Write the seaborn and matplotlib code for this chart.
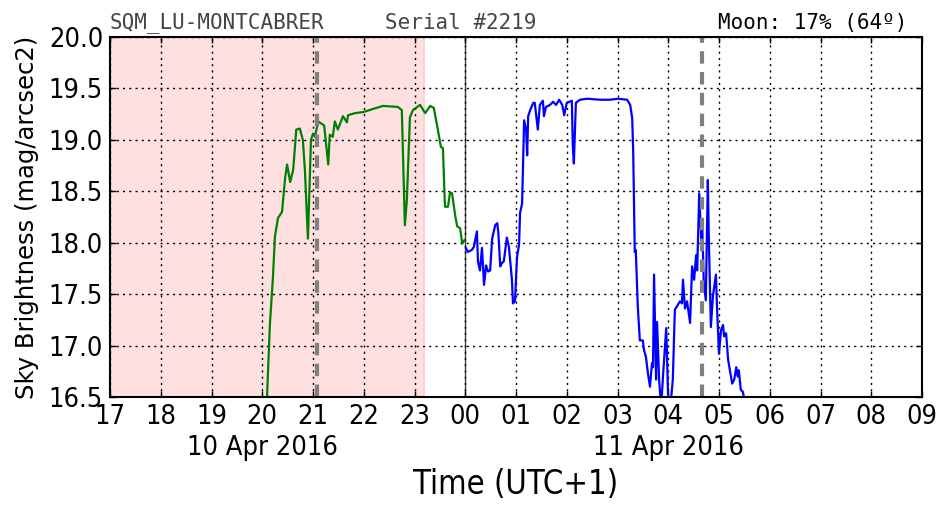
import numpy as np
import pandas as pd
import matplotlib
matplotlib.use("Agg")
import matplotlib.pyplot as plt
import seaborn as sns
from matplotlib import font_manager as fm
from matplotlib.font_manager import FontProperties
import matplotlib.transforms as mtransforms

# ---------------- data (hours after midnight of 10 Apr; >24 = 11 Apr) -------------
green_t = [20.09, 20.15, 20.21, 20.25, 20.31, 20.39, 20.45, 20.49, 20.55, 20.61,
           20.67, 20.74, 20.80, 20.84, 20.90, 20.96, 21.00, 21.04, 21.10, 21.22,
           21.30, 21.33, 21.39, 21.43, 21.49, 21.59, 21.67, 21.69, 21.83, 21.99,
           22.18, 22.38, 22.67, 22.75, 22.81, 22.85, 22.91, 22.97, 23.11, 23.21,
           23.31, 23.38, 23.46, 23.52, 23.56, 23.60, 23.66, 23.70, 23.74, 23.80,
           23.84, 23.90, 23.94, 23.99]
green_v = [16.45, 17.20, 17.66, 18.06, 18.24, 18.30, 18.63, 18.76, 18.59, 18.71,
           19.10, 19.11, 19.00, 18.71, 18.04, 19.00, 19.06, 19.03, 19.18, 19.14,
           18.76, 19.05, 19.03, 19.18, 19.10, 19.23, 19.17, 19.24, 19.26, 19.27,
           19.30, 19.33, 19.32, 19.29, 18.17, 18.42, 19.22, 19.29, 19.34, 19.26,
           19.33, 19.31, 19.10, 18.93, 18.92, 18.35, 18.35, 18.49, 18.48, 18.27,
           18.16, 18.14, 17.99, 18.03]

blue_t = [24.01, 24.05, 24.13, 24.17, 24.23, 24.25, 24.29, 24.33, 24.37, 24.41,
          24.45, 24.49, 24.53, 24.59, 24.63, 24.65, 24.69, 24.72, 24.76, 24.82,
          24.86, 24.92, 24.94, 24.98, 25.02, 25.06, 25.08, 25.12, 25.16, 25.20,
          25.22, 25.24, 25.28, 25.34, 25.37, 25.43, 25.47, 25.53, 25.55, 25.59,
          25.67, 25.73, 25.79, 25.85, 25.91, 25.95, 26.00, 26.10, 26.12, 26.14,
          26.18, 26.26, 26.40, 26.66, 26.85, 27.01, 27.19, 27.25, 27.29, 27.31,
          27.34, 27.36, 27.40, 27.44, 27.50, 27.52, 27.56, 27.60, 27.64, 27.68,
          27.70, 27.72, 27.76, 27.78, 27.82, 27.86, 27.90, 27.96, 28.00, 28.05,
          28.09, 28.13, 28.17, 28.23, 28.27, 28.29, 28.33, 28.37, 28.43, 28.47,
          28.51, 28.55, 28.57, 28.61, 28.65, 28.67, 28.70, 28.74, 28.78, 28.80,
          28.84, 28.88, 28.94, 28.96, 29.00, 29.04, 29.08, 29.10, 29.14, 29.18,
          29.26, 29.30, 29.34, 29.37, 29.39, 29.43, 29.47, 29.51]
blue_v = [17.95, 17.91, 17.93, 17.96, 18.11, 17.82, 17.73, 17.95, 17.59, 17.78,
          17.72, 17.73, 18.04, 18.17, 18.19, 18.11, 17.77, 17.80, 17.82, 18.05,
          17.96, 17.64, 17.41, 17.43, 17.86, 17.98, 18.29, 18.38, 19.19, 19.10,
          18.85, 19.23, 19.29, 19.36, 19.36, 19.10, 19.34, 19.38, 19.23, 19.32,
          19.34, 19.37, 19.34, 19.39, 19.34, 19.24, 19.36, 19.38, 18.93, 18.77,
          19.36, 19.39, 19.40, 19.39, 19.39, 19.40, 19.39, 19.34, 19.21, 18.87,
          17.91, 17.93, 17.38, 17.05, 17.05, 16.96, 16.89, 16.73, 16.60, 16.83,
          16.79, 17.69, 16.67, 17.23, 16.67, 16.40, 16.73, 17.17, 16.45, 16.45,
          16.67, 17.35, 17.38, 17.43, 17.41, 17.64, 17.36, 17.43, 17.22, 17.77,
          17.64, 17.88, 17.73, 18.48, 18.03, 18.16, 17.61, 17.44, 18.61, 18.03,
          17.18, 17.48, 17.69, 17.38, 16.92, 17.15, 17.20, 17.09, 17.12, 16.86,
          16.63, 16.67, 16.79, 16.70, 16.76, 16.57, 16.55, 16.45]

hour_ticks = list(range(17, 34))
hour_labels = ["17", "18", "19", "20", "21", "22", "23", "00", "01", "02",
               "03", "04", "05", "06", "07", "08", "09"]
date_pos = [20.0, 28.0]
date_labels = ["10 Apr 2016", "11 Apr 2016"]
y_ticks = [16.5, 17.0, 17.5, 18.0, 18.5, 19.0, 19.5, 20.0]
night_span = (17.0, 23.19)
event_lines = [21.07, 28.66]
midnight = 24.0

title_left = "SQM_LU-MONTCABRER"
title_mid = "Serial #2219"
title_right = "Moon: 17% (64º)"

# ---------------- style ----------------
sns.set_theme(style="white")
plt.rcParams["font.family"] = ["DejaVu Sans"]

cond = None
for f in fm.fontManager.ttflist:
    if f.fname.endswith("DejaVuSansCondensed.ttf"):
        cond = f.fname
        break
if cond is not None:
    tick_fp = FontProperties(fname=cond, size=19.5)
    lab_fp = FontProperties(fname=cond, size=23.5)
else:
    tick_fp = FontProperties(family="DejaVu Sans", size=17)
    lab_fp = FontProperties(family="DejaVu Sans", size=21)

fig = plt.figure(figsize=(9.52, 5.12), dpi=100)
ax = fig.add_axes([110 / 952, 1 - 397 / 512, 812 / 952, 360 / 512])

ax.axvspan(*night_span, facecolor=(1.0, 0.88, 0.88), edgecolor=(1.0, 0.8, 0.8),
           linewidth=1.2, zorder=0)

gdf = pd.DataFrame({"t": green_t, "v": green_v})
bdf = pd.DataFrame({"t": blue_t, "v": blue_v})
sns.lineplot(data=gdf, x="t", y="v", color="green", linewidth=1.6,
             estimator=None, sort=False, ax=ax, zorder=3)
sns.lineplot(data=bdf, x="t", y="v", color="blue", linewidth=1.6,
             estimator=None, sort=False, ax=ax, zorder=3)

for xe in event_lines:
    ax.axvline(xe, color="gray", linewidth=3, linestyle=(0, (3, 2)), zorder=4)
ax.axvline(midnight, color="#444444", linewidth=1.0, zorder=2)

ax.set_xlim(17, 33)
ax.set_ylim(16.5, 20.0)
ax.set_xticks(hour_ticks)
ax.set_xticklabels(hour_labels, fontproperties=tick_fp)
ax.set_yticks(y_ticks)
ax.set_yticklabels([f"{v:.1f}" for v in y_ticks], fontproperties=tick_fp)
ax.tick_params(axis="both", which="both", direction="in", length=4, width=1,
               pad=5, colors="black", top=True, right=True, bottom=True, left=True)

ax.grid(True, color="black", linestyle=(0, (1.5, 3)), linewidth=1.0)
ax.set_axisbelow(False)
for s in ax.spines.values():
    s.set_color("black")
    s.set_linewidth(1.5)
    s.set_zorder(5)

trans = mtransforms.blended_transform_factory(ax.transData, ax.transAxes)
for p, lab in zip(date_pos, date_labels):
    ax.text(p, -0.105, lab, transform=trans, ha="center", va="top",
            fontproperties=tick_fp, color="black")

ax.set_xlabel("Time (UTC+1)", fontproperties=lab_fp, color="black")
ax.xaxis.set_label_coords(0.5, -0.196)
ax.set_ylabel("Sky Brightness (mag/arcsec2)", fontsize=17.5, color="black")
ax.yaxis.set_label_coords(-0.088, 0.5)

ax.text(0.0, 1.01, title_left, transform=ax.transAxes, ha="left", va="bottom",
        family="DejaVu Sans Mono", fontsize=15, color="#444444")
ax.text(0.339, 1.01, title_mid, transform=ax.transAxes, ha="left", va="bottom",
        family="DejaVu Sans Mono", fontsize=15, color="#444444")
ax.text(0.749, 1.01, title_right, transform=ax.transAxes, ha="left", va="bottom",
        family="DejaVu Sans Mono", fontsize=15, color="black")

fig.savefig("out.png", dpi=100)
